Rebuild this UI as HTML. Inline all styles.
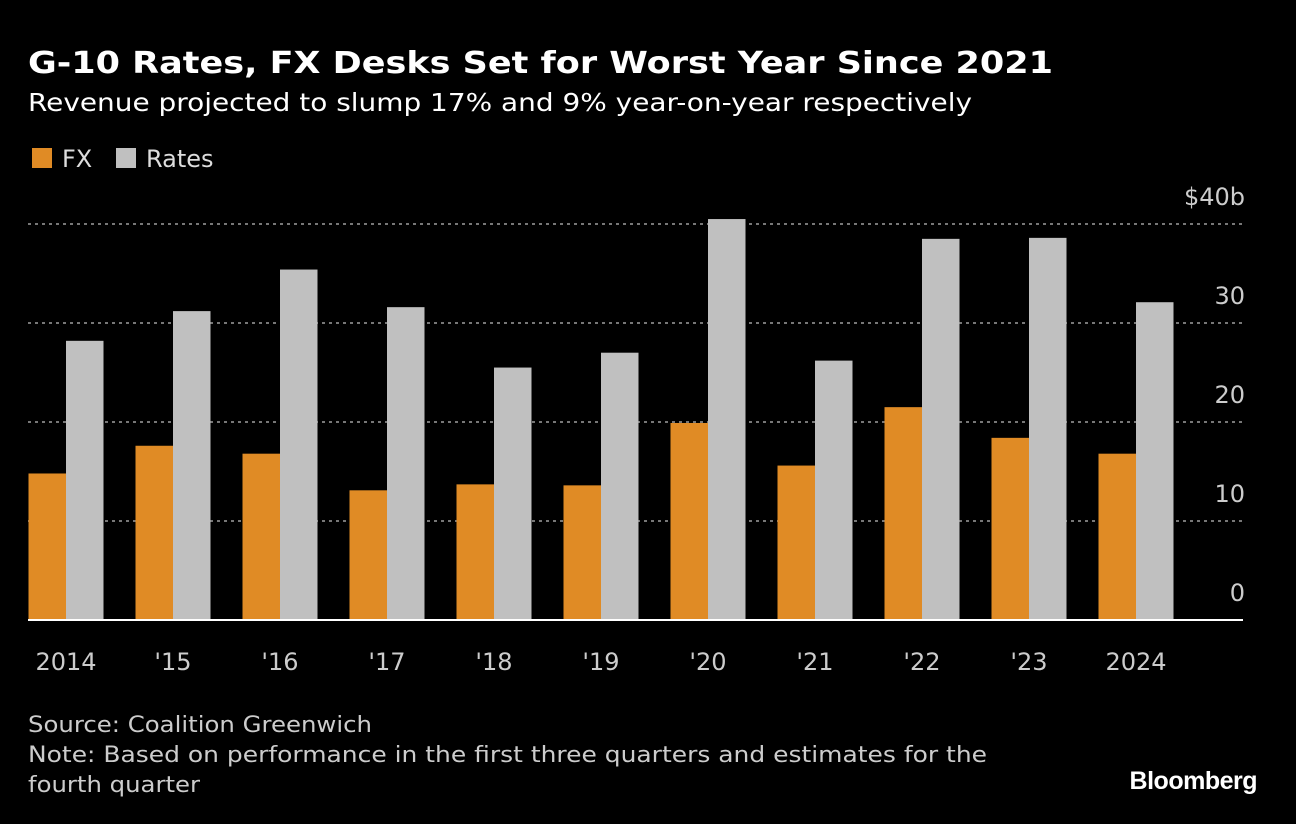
<!DOCTYPE html>
<html><head><meta charset="utf-8"><style>
body{margin:0;background:#000;width:1296px;height:824px;overflow:hidden;font-family:"DejaVu Sans",sans-serif;color:#fff}
svg{display:block;font-family:"DejaVu Sans",sans-serif}
</style></head><body>
<svg width="1296" height="824">
<text x="28" y="73" font-size="30" font-weight="bold" fill="#fff" textLength="1025" lengthAdjust="spacingAndGlyphs">G-10 Rates, FX Desks Set for Worst Year Since 2021</text>
<text x="28" y="111" font-size="25" fill="#fff" textLength="944" lengthAdjust="spacingAndGlyphs">Revenue projected to slump 17% and 9% year-on-year respectively</text>
<g>
<rect x="32" y="148" width="20" height="20" fill="#e08b25"/>
<text x="62" y="167" font-size="24" fill="#ddd">FX</text>
<rect x="116" y="148" width="20" height="20" fill="#c0c0c0"/>
<text x="146" y="167" font-size="24" fill="#ddd">Rates</text>
</g>
<g id="plot"></g>
<text x="28" y="732" font-size="22" fill="#ccc" textLength="344" lengthAdjust="spacingAndGlyphs">Source: Coalition Greenwich</text>
<text x="28" y="762" font-size="22" fill="#ccc" textLength="959" lengthAdjust="spacingAndGlyphs">Note: Based on performance in the first three quarters and estimates for the</text>
<text x="28" y="792" font-size="22" fill="#ccc" textLength="172" lengthAdjust="spacingAndGlyphs">fourth quarter</text>
<text x="1257" y="789" font-size="25" font-weight="bold" fill="#fff" text-anchor="end" letter-spacing="-0.5" style="font-family:'Liberation Sans',sans-serif">Bloomberg</text>
</svg>
<script>
const categories=["2014","'15","'16","'17","'18","'19","'20","'21","'22","'23","2024"];
const fxValues=[14.8,17.6,16.8,13.1,13.7,13.6,19.9,15.6,21.5,18.4,16.8];
const ratesValues=[28.2,31.2,35.4,31.6,25.5,27.0,40.5,26.2,38.5,38.6,32.1];
const yTicks=[0,10,20,30,40];
const yTickLabels=["0","10","20","30","$40b"];
const NS="http://www.w3.org/2000/svg";
const plot=document.getElementById('plot');
const y0=620,pxPer=9.9,left=28,right=1243,step=107,bw=37.5,firstCenter=66;
const y=v=>y0-v*pxPer;
const xc=i=>firstCenter+i*step;
function mk(t,a){const e=document.createElementNS(NS,t);for(const k in a)e.setAttribute(k,a[k]);plot.appendChild(e);return e;}
yTicks.forEach((t,i)=>{
 if(t>0){const l=mk('line',{x1:left,x2:right,y1:y(t),y2:y(t),stroke:'#777','stroke-width':2,'stroke-dasharray':'3 4'});
 
 }
 const tx=mk('text',{x:1245,y:y(t)-19,'font-size':24,fill:'#ccc','text-anchor':'end'});
 tx.textContent=yTickLabels[i];
 
 
});
categories.forEach((c,i)=>{
 const r1=mk('rect',{x:xc(i)-bw,y:y(fxValues[i]),width:bw,height:fxValues[i]*pxPer,fill:'#e08b25'});
 
 
 const r2=mk('rect',{x:xc(i),y:y(ratesValues[i]),width:bw,height:ratesValues[i]*pxPer,fill:'#c0c0c0'});
 
 
 const t=mk('text',{x:xc(i),y:670,'font-size':24,fill:'#ccc','text-anchor':'middle'});
 t.textContent=c;
 
 
});
const base=mk('line',{x1:left,x2:right,y1:y0,y2:y0,stroke:'#fff','stroke-width':2});


</script>
</body></html>
